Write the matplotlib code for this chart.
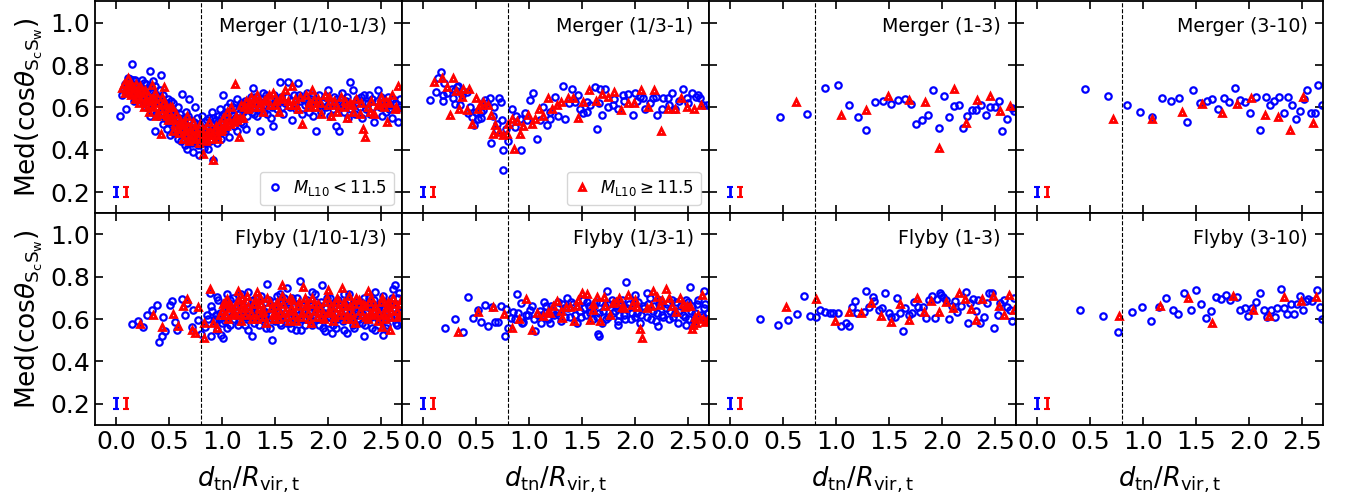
import numpy as np
import matplotlib
matplotlib.use("Agg")
import matplotlib.pyplot as plt

# ---- data ----
# each list holds (d_tn/R_vir,t , Med(cos theta)) pairs
merger_a_lo = [
    (0.04, 0.56), (0.06, 0.66), (0.07, 0.69), (0.09, 0.59), (0.10, 0.72), (0.11, 0.74), (0.12, 0.70),
    (0.13, 0.735), (0.15, 0.805), (0.16, 0.73), (0.17, 0.63), (0.18, 0.68), (0.19, 0.71), (0.20, 0.66),
    (0.21, 0.68), (0.22, 0.64), (0.23, 0.70), (0.24, 0.73), (0.25, 0.62), (0.26, 0.715), (0.27, 0.66),
    (0.28, 0.60), (0.29, 0.68), (0.30, 0.69), (0.31, 0.64), (0.32, 0.77), (0.32, 0.56), (0.33, 0.62),
    (0.34, 0.58), (0.35, 0.725), (0.36, 0.66), (0.37, 0.49), (0.38, 0.60), (0.39, 0.63), (0.40, 0.56),
    (0.41, 0.68), (0.42, 0.755), (0.43, 0.58), (0.44, 0.52), (0.45, 0.62), (0.46, 0.55), (0.47, 0.60),
    (0.48, 0.50), (0.49, 0.64), (0.50, 0.56), (0.51, 0.47), (0.52, 0.59), (0.53, 0.53), (0.54, 0.62),
    (0.55, 0.48), (0.56, 0.57), (0.57, 0.52), (0.58, 0.45), (0.59, 0.55), (0.60, 0.50), (0.61, 0.44),
    (0.62, 0.665), (0.63, 0.53), (0.64, 0.47), (0.65, 0.42), (0.66, 0.51), (0.67, 0.405), (0.68, 0.56),
    (0.69, 0.64), (0.70, 0.46), (0.71, 0.50), (0.72, 0.43), (0.73, 0.39), (0.74, 0.53), (0.75, 0.60),
    (0.76, 0.47), (0.77, 0.42), (0.78, 0.375), (0.79, 0.51), (0.80, 0.44), (0.81, 0.56), (0.82, 0.48),
    (0.83, 0.41), (0.84, 0.53), (0.85, 0.46), (0.86, 0.50), (0.87, 0.405), (0.88, 0.55), (0.89, 0.44),
    (0.90, 0.52), (0.91, 0.58), (0.92, 0.35), (0.93, 0.48), (0.94, 0.54), (0.95, 0.43), (0.96, 0.56),
    (0.97, 0.50), (0.98, 0.59), (0.99, 0.45), (1.00, 0.53), (1.01, 0.66), (1.02, 0.57), (1.03, 0.49),
    (1.05, 0.60), (1.06, 0.54), (1.07, 0.46), (1.08, 0.62), (1.10, 0.56), (1.11, 0.51), (1.12, 0.59),
    (1.14, 0.64), (1.15, 0.55), (1.17, 0.61), (1.18, 0.53), (1.20, 0.58), (1.22, 0.63), (1.23, 0.50),
    (1.25, 0.60), (1.27, 0.65), (1.29, 0.69), (1.30, 0.57), (1.32, 0.62), (1.34, 0.60), (1.36, 0.49),
    (1.38, 0.64), (1.40, 0.58), (1.42, 0.66), (1.44, 0.61), (1.46, 0.55), (1.48, 0.51), (1.50, 0.63),
    (1.52, 0.59), (1.55, 0.72), (1.56, 0.65), (1.58, 0.57), (1.60, 0.62), (1.62, 0.72), (1.64, 0.60),
    (1.66, 0.54), (1.68, 0.66), (1.70, 0.59), (1.72, 0.715), (1.74, 0.63), (1.76, 0.57), (1.78, 0.61),
    (1.80, 0.67), (1.82, 0.58), (1.84, 0.64), (1.86, 0.56), (1.89, 0.49), (1.90, 0.62), (1.92, 0.66),
    (1.94, 0.58), (1.96, 0.63), (1.98, 0.60), (2.00, 0.68), (2.02, 0.56), (2.04, 0.62), (2.06, 0.65),
    (2.08, 0.51), (2.10, 0.60), (2.11, 0.49), (2.13, 0.67), (2.15, 0.58), (2.17, 0.63), (2.19, 0.55),
    (2.21, 0.72), (2.23, 0.61), (2.24, 0.68), (2.26, 0.57), (2.28, 0.64), (2.30, 0.60), (2.32, 0.55),
    (2.34, 0.66), (2.36, 0.59), (2.38, 0.62), (2.40, 0.57), (2.42, 0.64), (2.44, 0.53), (2.47, 0.68),
    (2.49, 0.60), (2.51, 0.56), (2.53, 0.63), (2.55, 0.58), (2.57, 0.65), (2.59, 0.61), (2.61, 0.55),
    (2.63, 0.62), (2.65, 0.59), (2.66, 0.53), (2.68, 0.64),
    (0.08, 0.71), (0.12, 0.67), (0.14, 0.69), (0.16, 0.66), (0.18, 0.73), (0.20, 0.70), (0.22, 0.69),
    (0.24, 0.66), (0.26, 0.63), (0.28, 0.71), (0.30, 0.61), (0.33, 0.67), (0.35, 0.63), (0.37, 0.70),
    (0.38, 0.57), (0.40, 0.65), (0.42, 0.61), (0.44, 0.66), (0.46, 0.59), (0.48, 0.62), (0.50, 0.53),
    (0.52, 0.63), (0.54, 0.56), (0.56, 0.50), (0.58, 0.60), (0.60, 0.57), (0.62, 0.48), (0.64, 0.55),
    (0.66, 0.58), (0.68, 0.45), (0.70, 0.54), (0.72, 0.49), (0.74, 0.44), (0.76, 0.55), (0.78, 0.46),
    (0.80, 0.50), (0.82, 0.43), (0.84, 0.47), (0.86, 0.54), (0.88, 0.47), (0.90, 0.49), (0.92, 0.55),
    (0.94, 0.46), (0.96, 0.52), (0.98, 0.48), (1.00, 0.56), (1.02, 0.50), (1.04, 0.54), (1.06, 0.58),
    (1.08, 0.52), (1.10, 0.60), (1.12, 0.55), (1.14, 0.49), (1.16, 0.57), (1.18, 0.62), (1.20, 0.52),
    (1.22, 0.59), (1.24, 0.56), (1.26, 0.62), (1.28, 0.58), (1.31, 0.65), (1.33, 0.56), (1.35, 0.63),
    (1.37, 0.59), (1.39, 0.67), (1.41, 0.61), (1.43, 0.57), (1.45, 0.64), (1.47, 0.60), (1.49, 0.66),
    (1.53, 0.62), (1.57, 0.60), (1.61, 0.65), (1.65, 0.63), (1.69, 0.61), (1.73, 0.66), (1.77, 0.64),
    (1.81, 0.62), (1.85, 0.66), (1.88, 0.60), (1.93, 0.61), (1.97, 0.65), (2.01, 0.62), (2.05, 0.59),
    (2.09, 0.64), (2.14, 0.61), (2.18, 0.65), (2.22, 0.59), (2.27, 0.62), (2.31, 0.65), (2.35, 0.62),
    (2.39, 0.66), (2.43, 0.60), (2.46, 0.63), (2.50, 0.65), (2.54, 0.61), (2.58, 0.59), (2.62, 0.64),
    (2.67, 0.60),
]
merger_a_hi = [
    (0.06, 0.69), (0.08, 0.67), (0.10, 0.70), (0.11, 0.74), (0.13, 0.72), (0.14, 0.66), (0.15, 0.70),
    (0.17, 0.69), (0.18, 0.64), (0.19, 0.71), (0.21, 0.67), (0.22, 0.62), (0.23, 0.70), (0.25, 0.65),
    (0.26, 0.60), (0.27, 0.68), (0.29, 0.63), (0.30, 0.66), (0.31, 0.58), (0.33, 0.64), (0.34, 0.705),
    (0.35, 0.60), (0.37, 0.67), (0.38, 0.56), (0.39, 0.62), (0.41, 0.59), (0.42, 0.475), (0.43, 0.65),
    (0.45, 0.695), (0.46, 0.57), (0.47, 0.61), (0.49, 0.54), (0.50, 0.58), (0.52, 0.55), (0.53, 0.60),
    (0.54, 0.49), (0.56, 0.52), (0.57, 0.57), (0.59, 0.48), (0.60, 0.54), (0.62, 0.50), (0.63, 0.45),
    (0.64, 0.53), (0.66, 0.47), (0.67, 0.56), (0.69, 0.44), (0.70, 0.50), (0.72, 0.47), (0.73, 0.53),
    (0.75, 0.45), (0.76, 0.49), (0.78, 0.43), (0.79, 0.52), (0.81, 0.46), (0.82, 0.38), (0.84, 0.50),
    (0.85, 0.44), (0.87, 0.48), (0.88, 0.53), (0.90, 0.45), (0.92, 0.35), (0.93, 0.50), (0.95, 0.47),
    (0.97, 0.52), (0.99, 0.49), (1.01, 0.55), (1.03, 0.52), (1.05, 0.58), (1.07, 0.54), (1.09, 0.60),
    (1.12, 0.71), (1.13, 0.56), (1.16, 0.46), (1.18, 0.61), (1.20, 0.55), (1.23, 0.63), (1.25, 0.59),
    (1.27, 0.65), (1.30, 0.60), (1.33, 0.66), (1.36, 0.62), (1.39, 0.58), (1.42, 0.64), (1.45, 0.61),
    (1.48, 0.67), (1.51, 0.63), (1.54, 0.58), (1.57, 0.65), (1.60, 0.68), (1.63, 0.61), (1.66, 0.70),
    (1.69, 0.64), (1.72, 0.59), (1.76, 0.52), (1.79, 0.66), (1.82, 0.62), (1.85, 0.68), (1.88, 0.60),
    (1.91, 0.64), (1.94, 0.57), (1.97, 0.66), (2.00, 0.61), (2.03, 0.56), (2.06, 0.63), (2.09, 0.58),
    (2.12, 0.65), (2.15, 0.60), (2.18, 0.55), (2.21, 0.62), (2.24, 0.58), (2.27, 0.64), (2.30, 0.57),
    (2.33, 0.50), (2.35, 0.46), (2.38, 0.60), (2.41, 0.63), (2.44, 0.57), (2.47, 0.61), (2.50, 0.65),
    (2.53, 0.60), (2.56, 0.53), (2.58, 0.62), (2.61, 0.66), (2.64, 0.60), (2.66, 0.70),
    (0.07, 0.71), (0.09, 0.68), (0.12, 0.71), (0.16, 0.67), (0.20, 0.65), (0.24, 0.68), (0.28, 0.64),
    (0.32, 0.61), (0.36, 0.64), (0.40, 0.57), (0.44, 0.62), (0.48, 0.56), (0.51, 0.60), (0.55, 0.54),
    (0.58, 0.50), (0.61, 0.52), (0.65, 0.49), (0.68, 0.51), (0.71, 0.45), (0.74, 0.50), (0.77, 0.46),
    (0.80, 0.48), (0.83, 0.45), (0.86, 0.47), (0.89, 0.49), (0.91, 0.47), (0.94, 0.51), (0.96, 0.45),
    (0.98, 0.49), (1.00, 0.50), (1.04, 0.51), (1.08, 0.52), (1.11, 0.53), (1.14, 0.54), (1.17, 0.55),
    (1.21, 0.60), (1.26, 0.62), (1.31, 0.64), (1.35, 0.60), (1.40, 0.63), (1.44, 0.66), (1.50, 0.61),
    (1.55, 0.64), (1.62, 0.63), (1.68, 0.61), (1.74, 0.65), (1.81, 0.60), (1.87, 0.64), (1.93, 0.62),
    (2.01, 0.65), (2.08, 0.61), (2.16, 0.63), (2.23, 0.61), (2.31, 0.62), (2.40, 0.58), (2.48, 0.62),
    (2.55, 0.63), (2.63, 0.59),
]
merger_b_lo = [
    (0.064, 0.637), (0.118, 0.674), (0.143, 0.737), (0.165, 0.765), (0.184, 0.629), (0.19, 0.66),
    (0.200, 0.713), (0.222, 0.666), (0.269, 0.689), (0.284, 0.642), (0.300, 0.681), (0.316, 0.697),
    (0.332, 0.702), (0.300, 0.618), (0.347, 0.610), (0.37, 0.66), (0.410, 0.674), (0.426, 0.571),
    (0.44, 0.60), (0.458, 0.555), (0.483, 0.515), (0.50, 0.58), (0.521, 0.547), (0.546, 0.579),
    (0.55, 0.55), (0.568, 0.587), (0.584, 0.634), (0.60, 0.62), (0.631, 0.645), (0.640, 0.432),
    (0.66, 0.56), (0.672, 0.602), (0.694, 0.492), (0.70, 0.52), (0.719, 0.645), (0.731, 0.623),
    (0.741, 0.539), (0.757, 0.397), (0.750, 0.302), (0.78, 0.50), (0.804, 0.440), (0.835, 0.594),
    (0.867, 0.508), (0.88, 0.56), (0.923, 0.400), (0.914, 0.547), (0.961, 0.571), (0.98, 0.54),
    (1.008, 0.637), (1.040, 0.670), (1.071, 0.452), (1.103, 0.539), (1.134, 0.602), (1.166, 0.515),
    (1.197, 0.547), (1.20, 0.58), (1.244, 0.650), (1.27, 0.56), (1.323, 0.700), (1.339, 0.547),
    (1.38, 0.62), (1.402, 0.689), (1.433, 0.626), (1.46, 0.66), (1.481, 0.594), (1.512, 0.571),
    (1.544, 0.626), (1.55, 0.58), (1.575, 0.610), (1.622, 0.697), (1.638, 0.496), (1.66, 0.62),
    (1.670, 0.689), (1.692, 0.563), (1.717, 0.685), (1.748, 0.602), (1.795, 0.610), (1.80, 0.64),
    (1.843, 0.594), (1.890, 0.658), (1.90, 0.63), (1.937, 0.661), (1.984, 0.566), (2.000, 0.666),
    (2.02, 0.63), (2.047, 0.650), (2.079, 0.642), (2.094, 0.594), (2.14, 0.62), (2.173, 0.645),
    (2.20, 0.65), (2.205, 0.566), (2.252, 0.594), (2.268, 0.645), (2.315, 0.642), (2.32, 0.61),
    (2.346, 0.666), (2.378, 0.594), (2.42, 0.63), (2.456, 0.686), (2.488, 0.642), (2.50, 0.62),
    (2.535, 0.666), (2.582, 0.650), (2.60, 0.66), (2.614, 0.642), (2.646, 0.610), (2.68, 0.61),
]
merger_b_hi = [
    (0.105, 0.721), (0.175, 0.740), (0.222, 0.694), (0.284, 0.737), (0.253, 0.563), (0.307, 0.678),
    (0.338, 0.591), (0.363, 0.650), (0.379, 0.686), (0.410, 0.587), (0.432, 0.689), (0.458, 0.523),
    (0.495, 0.642), (0.521, 0.591), (0.536, 0.613), (0.568, 0.626), (0.609, 0.610), (0.640, 0.566),
    (0.662, 0.476), (0.678, 0.515), (0.719, 0.484), (0.757, 0.468), (0.788, 0.476), (0.804, 0.523),
    (0.835, 0.547), (0.883, 0.534), (0.857, 0.402), (0.914, 0.476), (0.946, 0.512), (0.986, 0.563),
    (1.024, 0.523), (1.055, 0.547), (1.093, 0.594), (1.134, 0.560), (1.175, 0.642), (1.213, 0.591),
    (1.260, 0.610), (1.301, 0.626), (1.364, 0.645), (1.411, 0.645), (1.459, 0.550), (1.512, 0.626),
    (1.566, 0.681), (1.629, 0.629), (1.685, 0.661), (1.742, 0.650), (1.805, 0.674), (1.868, 0.587),
    (1.931, 0.621), (1.994, 0.621), (2.054, 0.683), (2.120, 0.602), (2.183, 0.683), (2.246, 0.487),
    (2.315, 0.590), (2.378, 0.594), (2.434, 0.645), (2.497, 0.602), (2.560, 0.594), (2.623, 0.610),
]
merger_c_lo = [
    (0.474, 0.553), (0.728, 0.570), (0.895, 0.690), (1.021, 0.706), (1.122, 0.613), (1.210, 0.553),
    (1.285, 0.494), (1.364, 0.627), (1.446, 0.631), (1.518, 0.617), (1.588, 0.633), (1.647, 0.641),
    (1.704, 0.617), (1.760, 0.521), (1.811, 0.540), (1.864, 0.565), (1.918, 0.682), (1.968, 0.502),
    (2.022, 0.652), (2.063, 0.553), (2.110, 0.606), (2.160, 0.611), (2.198, 0.501), (2.239, 0.559),
    (2.283, 0.587), (2.324, 0.589), (2.368, 0.609), (2.412, 0.565), (2.453, 0.603), (2.497, 0.600),
    (2.535, 0.628), (2.570, 0.487), (2.614, 0.546), (2.658, 0.595), (2.680, 0.584),
]
merger_c_hi = [
    (0.625, 0.624), (1.047, 0.564), (1.285, 0.589), (1.493, 0.655), (1.685, 0.635), (1.836, 0.624),
    (1.972, 0.409), (2.110, 0.688), (2.227, 0.526), (2.334, 0.636), (2.450, 0.652), (2.551, 0.583),
    (2.642, 0.605),
]
merger_d_lo = [
    (0.455, 0.687), (0.672, 0.652), (0.845, 0.609), (0.971, 0.578), (1.085, 0.554), (1.179, 0.646),
    (1.264, 0.630), (1.339, 0.644), (1.415, 0.529), (1.472, 0.682), (1.535, 0.620), (1.601, 0.630),
    (1.654, 0.641), (1.711, 0.592), (1.764, 0.646), (1.815, 0.624), (1.865, 0.691), (1.919, 0.633),
    (1.966, 0.624), (2.013, 0.575), (2.067, 0.647), (2.108, 0.491), (2.158, 0.650), (2.199, 0.611),
    (2.240, 0.630), (2.287, 0.649), (2.328, 0.572), (2.372, 0.650), (2.410, 0.611), (2.441, 0.546),
    (2.479, 0.583), (2.520, 0.638), (2.551, 0.680), (2.589, 0.572), (2.624, 0.575), (2.655, 0.706),
    (2.686, 0.611),
]
merger_d_hi = [
    (0.719, 0.543), (1.088, 0.546), (1.365, 0.576), (1.557, 0.614), (1.746, 0.573), (1.891, 0.614),
    (2.020, 0.646), (2.155, 0.565), (2.278, 0.556), (2.388, 0.493), (2.508, 0.647), (2.608, 0.526),
]
flyby_a_lo = [
    (0.148, 0.578), (0.211, 0.591), (0.258, 0.562), (0.290, 0.619), (0.337, 0.643), (0.384, 0.666),
    (0.409, 0.493), (0.431, 0.520), (0.447, 0.611), (0.463, 0.545), (0.510, 0.666), (0.526, 0.687),
    (0.557, 0.587), (0.573, 0.548), (0.620, 0.694), (0.652, 0.619), (0.668, 0.674), (0.715, 0.564),
    (0.731, 0.643), (0.769, 0.595), (0.803, 0.528), (0.841, 0.564), (0.894, 0.520), (0.935, 0.591),
    (0.989, 0.524), (1.014, 0.509), (0.888, 0.721), (0.951, 0.706), (1.077, 0.690), (1.288, 0.520),
    (1.424, 0.768), (1.471, 0.501), (1.613, 0.745), (1.739, 0.781), (1.943, 0.761), (1.975, 0.543),
    (2.038, 0.532), (2.180, 0.532), (2.343, 0.520), (2.520, 0.524), (2.636, 0.761), (2.668, 0.721),
    (0.86, 0.62), (0.90, 0.66), (0.93, 0.60), (0.96, 0.69), (0.98, 0.63), (1.00, 0.58), (1.02, 0.67),
    (1.04, 0.61), (1.06, 0.64), (1.08, 0.57), (1.10, 0.70), (1.12, 0.62), (1.14, 0.66), (1.16, 0.59),
    (1.18, 0.72), (1.20, 0.63), (1.22, 0.57), (1.24, 0.68), (1.26, 0.61), (1.28, 0.65), (1.30, 0.58),
    (1.32, 0.70), (1.34, 0.62), (1.36, 0.67), (1.38, 0.60), (1.40, 0.64), (1.42, 0.56), (1.44, 0.69),
    (1.46, 0.62), (1.48, 0.66), (1.50, 0.59), (1.52, 0.71), (1.54, 0.63), (1.56, 0.57), (1.58, 0.68),
    (1.60, 0.61), (1.62, 0.65), (1.64, 0.58), (1.66, 0.70), (1.68, 0.62), (1.70, 0.55), (1.72, 0.67),
    (1.74, 0.60), (1.76, 0.64), (1.78, 0.57), (1.80, 0.69), (1.82, 0.61), (1.84, 0.66), (1.86, 0.59),
    (1.88, 0.72), (1.90, 0.63), (1.92, 0.57), (1.94, 0.68), (1.96, 0.61), (1.98, 0.65), (2.00, 0.58),
    (2.02, 0.70), (2.04, 0.62), (2.06, 0.66), (2.08, 0.56), (2.10, 0.69), (2.12, 0.63), (2.14, 0.59),
    (2.16, 0.67), (2.18, 0.61), (2.20, 0.72), (2.22, 0.64), (2.24, 0.57), (2.26, 0.68), (2.28, 0.62),
    (2.30, 0.65), (2.32, 0.58), (2.34, 0.70), (2.36, 0.63), (2.38, 0.60), (2.40, 0.67), (2.42, 0.56),
    (2.44, 0.69), (2.46, 0.62), (2.48, 0.66), (2.50, 0.59), (2.52, 0.71), (2.54, 0.63), (2.56, 0.57),
    (2.58, 0.68), (2.60, 0.61), (2.62, 0.65), (2.64, 0.58), (2.66, 0.70), (2.68, 0.63),
    (0.95, 0.55), (1.05, 0.56), (1.15, 0.57), (1.25, 0.55), (1.35, 0.57), (1.45, 0.56), (1.55, 0.58),
    (1.65, 0.56), (1.75, 0.55), (1.85, 0.57), (1.95, 0.56), (2.05, 0.57), (2.15, 0.55), (2.25, 0.56),
    (2.35, 0.57), (2.45, 0.55), (2.55, 0.56), (2.65, 0.57), (1.05, 0.72), (1.25, 0.73), (1.55, 0.72),
    (1.85, 0.73), (2.15, 0.72), (2.45, 0.73), (2.62, 0.74),
    (0.87, 0.60), (0.91, 0.64), (0.94, 0.62), (0.97, 0.60), (1.01, 0.63), (1.03, 0.59), (1.07, 0.66),
    (1.11, 0.60), (1.13, 0.64), (1.17, 0.62), (1.19, 0.67), (1.23, 0.61), (1.27, 0.64), (1.29, 0.69),
    (1.31, 0.61), (1.35, 0.64), (1.37, 0.71), (1.41, 0.62), (1.43, 0.65), (1.47, 0.60), (1.49, 0.68),
    (1.53, 0.64), (1.57, 0.62), (1.59, 0.70), (1.61, 0.58), (1.63, 0.67), (1.67, 0.63), (1.69, 0.60),
    (1.71, 0.70), (1.73, 0.62), (1.77, 0.66), (1.79, 0.60), (1.83, 0.63), (1.87, 0.62), (1.89, 0.68),
    (1.91, 0.60), (1.93, 0.66), (1.97, 0.63), (1.99, 0.70), (2.01, 0.61), (2.03, 0.66), (2.07, 0.63),
    (2.09, 0.60), (2.11, 0.67), (2.13, 0.61), (2.17, 0.64), (2.19, 0.69), (2.21, 0.60), (2.23, 0.66),
    (2.27, 0.63), (2.29, 0.60), (2.31, 0.68), (2.33, 0.62), (2.37, 0.66), (2.39, 0.70), (2.41, 0.61),
    (2.43, 0.64), (2.47, 0.60), (2.49, 0.67), (2.51, 0.63), (2.53, 0.68), (2.57, 0.61), (2.59, 0.66),
    (2.61, 0.70), (2.63, 0.62), (2.67, 0.66), (2.69, 0.59),
]
flyby_a_hi = [
    (0.227, 0.576), (0.353, 0.619), (0.431, 0.564), (0.542, 0.622), (0.589, 0.568), (0.630, 0.661),
    (0.674, 0.693), (0.715, 0.548), (0.746, 0.535), (0.778, 0.658), (0.831, 0.512), (0.831, 0.580),
    (0.888, 0.740), (0.920, 0.583), (0.951, 0.556), (0.983, 0.619), (1.046, 0.694), (1.156, 0.734),
    (1.329, 0.729), (1.565, 0.761), (1.770, 0.750), (2.006, 0.737), (2.132, 0.748), (2.384, 0.734),
    (2.589, 0.548), (2.510, 0.564),
    (1.00, 0.64), (1.03, 0.68), (1.06, 0.60), (1.09, 0.66), (1.12, 0.62), (1.15, 0.69), (1.18, 0.59),
    (1.21, 0.65), (1.24, 0.71), (1.27, 0.63), (1.30, 0.67), (1.33, 0.60), (1.36, 0.70), (1.39, 0.64),
    (1.42, 0.58), (1.45, 0.68), (1.48, 0.62), (1.51, 0.66), (1.54, 0.60), (1.57, 0.71), (1.60, 0.64),
    (1.63, 0.59), (1.66, 0.69), (1.69, 0.62), (1.72, 0.66), (1.75, 0.61), (1.78, 0.70), (1.81, 0.63),
    (1.84, 0.58), (1.87, 0.67), (1.90, 0.61), (1.93, 0.65), (1.96, 0.60), (1.99, 0.70), (2.02, 0.64),
    (2.05, 0.59), (2.08, 0.68), (2.11, 0.62), (2.14, 0.66), (2.17, 0.60), (2.20, 0.71), (2.23, 0.63),
    (2.26, 0.58), (2.29, 0.69), (2.32, 0.62), (2.35, 0.66), (2.38, 0.60), (2.41, 0.70), (2.44, 0.64),
    (2.47, 0.59), (2.50, 0.68), (2.53, 0.62), (2.56, 0.66), (2.59, 0.61), (2.62, 0.70), (2.65, 0.64),
    (2.68, 0.67), (1.10, 0.63), (1.20, 0.67), (1.35, 0.65), (1.50, 0.63), (1.65, 0.65), (1.80, 0.67),
    (1.95, 0.63), (2.10, 0.65), (2.25, 0.67), (2.40, 0.63), (2.55, 0.65), (2.67, 0.62),
    (1.01, 0.67), (1.04, 0.62), (1.07, 0.65), (1.13, 0.66), (1.16, 0.63), (1.19, 0.70), (1.22, 0.62),
    (1.25, 0.66), (1.28, 0.60), (1.31, 0.69), (1.34, 0.63), (1.37, 0.67), (1.40, 0.61), (1.43, 0.70),
    (1.46, 0.65), (1.49, 0.60), (1.52, 0.68), (1.55, 0.63), (1.58, 0.67), (1.61, 0.61), (1.64, 0.70),
    (1.67, 0.64), (1.70, 0.59), (1.73, 0.68), (1.76, 0.63), (1.79, 0.66), (1.82, 0.60), (1.85, 0.70),
    (1.88, 0.64), (1.91, 0.67), (1.94, 0.61), (1.97, 0.68), (2.00, 0.63), (2.03, 0.66), (2.06, 0.61),
    (2.09, 0.70), (2.12, 0.64), (2.15, 0.68), (2.18, 0.62), (2.21, 0.66), (2.24, 0.60), (2.27, 0.70),
    (2.30, 0.64), (2.33, 0.67), (2.36, 0.61), (2.39, 0.68), (2.42, 0.62), (2.45, 0.66), (2.48, 0.63),
    (2.51, 0.70), (2.54, 0.60), (2.57, 0.68), (2.60, 0.64), (2.63, 0.67), (2.66, 0.61), (2.69, 0.69),
]
flyby_b_lo = [
    (0.205, 0.559), (0.299, 0.598), (0.372, 0.540), (0.425, 0.702), (0.472, 0.606), (0.520, 0.643),
    (0.551, 0.587), (0.583, 0.665), (0.614, 0.569), (0.646, 0.658), (0.677, 0.587), (0.709, 0.587),
    (0.740, 0.661), (0.772, 0.520), (0.787, 0.646), (0.803, 0.556), (0.828, 0.603), (0.850, 0.635),
    (0.882, 0.717), (0.898, 0.627), (0.920, 0.674), (0.945, 0.587), (0.976, 0.619), (1.008, 0.643),
    (1.033, 0.661), (1.055, 0.545), (1.087, 0.619), (1.118, 0.580), (1.140, 0.682), (1.654, 0.528),
    (1.663, 0.520), (1.739, 0.732), (1.843, 0.572), (1.915, 0.776), (2.000, 0.713), (2.110, 0.721),
    (2.214, 0.567), (2.482, 0.572), (2.520, 0.750), (2.652, 0.734),
    (1.15, 0.63), (1.18, 0.60), (1.21, 0.66), (1.24, 0.62), (1.27, 0.68), (1.30, 0.59), (1.33, 0.65),
    (1.36, 0.70), (1.39, 0.61), (1.42, 0.67), (1.45, 0.58), (1.48, 0.64), (1.51, 0.69), (1.54, 0.62),
    (1.57, 0.66), (1.60, 0.60), (1.63, 0.68), (1.66, 0.63), (1.69, 0.58), (1.72, 0.66), (1.75, 0.61),
    (1.78, 0.69), (1.81, 0.64), (1.84, 0.59), (1.87, 0.67), (1.90, 0.62), (1.93, 0.65), (1.96, 0.60),
    (1.99, 0.68), (2.02, 0.63), (2.05, 0.58), (2.08, 0.66), (2.11, 0.61), (2.14, 0.70), (2.17, 0.64),
    (2.20, 0.59), (2.23, 0.67), (2.26, 0.62), (2.29, 0.65), (2.32, 0.60), (2.35, 0.69), (2.38, 0.63),
    (2.41, 0.58), (2.44, 0.66), (2.47, 0.61), (2.50, 0.68), (2.53, 0.64), (2.56, 0.59), (2.59, 0.67),
    (2.62, 0.62), (2.65, 0.65), (2.68, 0.60), (0.87, 0.60), (0.93, 0.58), (0.99, 0.62), (1.05, 0.60),
    (1.10, 0.64), (1.12, 0.62), (1.20, 0.58), (1.26, 0.63),
    (1.16, 0.66), (1.22, 0.64), (1.28, 0.62), (1.31, 0.67), (1.34, 0.61), (1.37, 0.65), (1.40, 0.68),
    (1.43, 0.62), (1.46, 0.66), (1.49, 0.61), (1.52, 0.65), (1.55, 0.68), (1.58, 0.63), (1.61, 0.66),
    (1.64, 0.61), (1.67, 0.68), (1.70, 0.64), (1.73, 0.60), (1.76, 0.67), (1.79, 0.63), (1.82, 0.66),
    (1.85, 0.62), (1.88, 0.69), (1.91, 0.60), (1.94, 0.67), (1.97, 0.63), (2.00, 0.61), (2.03, 0.68),
    (2.06, 0.62), (2.09, 0.65), (2.12, 0.67), (2.15, 0.60), (2.18, 0.66), (2.21, 0.63), (2.24, 0.69),
    (2.27, 0.61), (2.30, 0.67), (2.33, 0.64), (2.36, 0.61), (2.39, 0.68), (2.42, 0.64), (2.45, 0.62),
    (2.48, 0.69), (2.51, 0.60), (2.54, 0.66), (2.57, 0.63), (2.60, 0.69), (2.63, 0.61), (2.66, 0.67),
    (2.69, 0.63),
]
flyby_b_hi = [
    (0.331, 0.540), (0.520, 0.635), (0.661, 0.658), (0.762, 0.624), (0.844, 0.556), (0.907, 0.600),
    (0.967, 0.694), (1.024, 0.548), (1.080, 0.627), (1.134, 0.614), (1.181, 0.635), (1.222, 0.661),
    (1.266, 0.687), (1.313, 0.603), (1.354, 0.658), (1.386, 0.655), (1.427, 0.591), (1.465, 0.690),
    (1.505, 0.721), (1.550, 0.718), (1.575, 0.595), (1.606, 0.643), (1.638, 0.702), (1.669, 0.591),
    (1.707, 0.705), (1.764, 0.619), (1.795, 0.674), (1.852, 0.701), (1.883, 0.658), (1.934, 0.713),
    (1.969, 0.666), (2.022, 0.658), (2.047, 0.551), (2.072, 0.512), (2.110, 0.650), (2.167, 0.734),
    (2.205, 0.702), (2.236, 0.666), (2.293, 0.740), (2.324, 0.698), (2.387, 0.635), (2.425, 0.698),
    (2.472, 0.655), (2.494, 0.661), (2.535, 0.551), (2.567, 0.608), (2.598, 0.619), (2.630, 0.713),
    (2.661, 0.587),
    (1.20, 0.63), (1.30, 0.64), (1.45, 0.66), (1.60, 0.67), (1.72, 0.66), (1.82, 0.68), (1.90, 0.65),
    (2.00, 0.69), (2.15, 0.66), (2.26, 0.69), (2.35, 0.66), (2.45, 0.67), (2.52, 0.66), (2.58, 0.58),
    (2.55, 0.57), (2.64, 0.60), (2.68, 0.59),
]
flyby_c_lo = [
    (0.283, 0.600), (0.450, 0.572), (0.545, 0.595), (0.630, 0.622), (0.693, 0.707), (0.750, 0.614),
    (0.809, 0.611), (0.850, 0.643), (0.898, 0.635), (0.945, 0.631), (0.976, 0.630), (1.014, 0.631),
    (1.049, 0.568), (1.093, 0.583), (1.121, 0.568), (1.150, 0.658), (1.175, 0.687), (1.197, 0.630),
    (1.260, 0.635), (1.282, 0.734), (1.307, 0.658), (1.345, 0.706), (1.361, 0.685), (1.402, 0.643),
    (1.433, 0.650), (1.458, 0.724), (1.496, 0.630), (1.521, 0.611), (1.553, 0.611), (1.575, 0.698),
    (1.606, 0.627), (1.631, 0.545), (1.654, 0.650), (1.685, 0.619), (1.717, 0.627), (1.732, 0.682),
    (1.770, 0.655), (1.795, 0.635), (1.820, 0.655), (1.849, 0.603), (1.874, 0.690), (1.906, 0.709),
    (1.931, 0.603), (1.953, 0.693), (1.978, 0.721), (1.991, 0.713), (2.009, 0.706), (2.038, 0.690),
    (2.063, 0.598), (2.094, 0.661), (2.126, 0.687), (2.142, 0.635), (2.183, 0.661), (2.227, 0.726),
    (2.243, 0.580), (2.268, 0.674), (2.293, 0.693), (2.318, 0.638), (2.337, 0.690), (2.362, 0.580),
    (2.400, 0.611), (2.425, 0.674), (2.441, 0.721), (2.472, 0.721), (2.494, 0.559), (2.529, 0.619),
    (2.551, 0.674), (2.583, 0.690), (2.614, 0.658), (2.646, 0.643), (2.661, 0.591), (2.677, 0.698),
]
flyby_c_hi = [
    (0.526, 0.658), (0.809, 0.693), (0.986, 0.592), (1.118, 0.635), (1.235, 0.630), (1.332, 0.677),
    (1.424, 0.616), (1.521, 0.587), (1.606, 0.671), (1.691, 0.595), (1.764, 0.698), (1.827, 0.635),
    (1.899, 0.685), (1.969, 0.635), (2.038, 0.682), (2.101, 0.650), (2.157, 0.721), (2.220, 0.693),
    (2.274, 0.646), (2.324, 0.595), (2.378, 0.694), (2.482, 0.710), (2.535, 0.661), (2.586, 0.619),
    (2.633, 0.713), (2.677, 0.643),
]
flyby_d_lo = [
    (0.409, 0.641), (0.624, 0.613), (0.762, 0.540), (0.891, 0.635), (0.992, 0.657), (1.074, 0.589),
    (1.150, 0.658), (1.213, 0.699), (1.279, 0.643), (1.332, 0.625), (1.386, 0.723), (1.449, 0.643),
    (1.502, 0.735), (1.543, 0.669), (1.597, 0.603), (1.644, 0.639), (1.688, 0.704), (1.732, 0.693),
    (1.780, 0.713), (1.820, 0.691), (1.883, 0.702), (1.915, 0.643), (1.959, 0.654), (1.994, 0.613),
    (2.031, 0.654), (2.069, 0.680), (2.104, 0.724), (2.142, 0.643), (2.173, 0.608), (2.211, 0.643),
    (2.243, 0.608), (2.268, 0.654), (2.299, 0.740), (2.331, 0.654), (2.356, 0.624), (2.394, 0.671),
    (2.425, 0.622), (2.450, 0.671), (2.482, 0.707), (2.510, 0.644), (2.535, 0.687), (2.561, 0.693),
    (2.592, 0.687), (2.646, 0.737), (2.671, 0.658), (2.693, 0.598),
]
flyby_d_hi = [
    (0.772, 0.616), (1.156, 0.660), (1.424, 0.699), (1.651, 0.581), (1.852, 0.710), (2.038, 0.643),
    (2.192, 0.616), (2.331, 0.706), (2.488, 0.687), (2.630, 0.702),
]

titles = ["Merger (1/10-1/3)", "Merger (1/3-1)", "Merger (1-3)", "Merger (3-10)",
          "Flyby (1/10-1/3)", "Flyby (1/3-1)", "Flyby (1-3)", "Flyby (3-10)"]
low_sets = [merger_a_lo, merger_b_lo, merger_c_lo, merger_d_lo,
            flyby_a_lo, flyby_b_lo, flyby_c_lo, flyby_d_lo]
high_sets = [merger_a_hi, merger_b_hi, merger_c_hi, merger_d_hi,
             flyby_a_hi, flyby_b_hi, flyby_c_hi, flyby_d_hi]

# representative error bars drawn at the bottom left of every panel
err_x = [0.0, 0.09]
err_y = [0.2, 0.2]
err_size = [0.025, 0.025]

d_split = 0.8

plt.rcParams['font.family'] = ['DejaVu Sans']
plt.rcParams['mathtext.fontset'] = 'dejavusans'

fig, axes = plt.subplots(2, 4, figsize=(13.56, 4.97), dpi=100, sharex=True, sharey=True)
fig.subplots_adjust(left=0.070, right=0.9757, top=0.997, bottom=0.145, wspace=0, hspace=0)

for i, ax in enumerate(axes.flat):
    lo = np.array(low_sets[i])
    hi = np.array(high_sets[i])
    h_lo, = ax.plot(lo[:, 0], lo[:, 1], 'o', mfc='none', mec='b', ms=4.6, mew=1.6,
                    label=r'$M_{\rm L10}<11.5$')
    h_hi, = ax.plot(hi[:, 0], hi[:, 1], '^', mfc='none', mec='r', ms=5.0, mew=2.0,
                    label=r'$M_{\rm L10}\geq11.5$')
    ax.errorbar(err_x[0], err_y[0], yerr=err_size[0], color='b', elinewidth=2, capsize=2, capthick=1.5)
    ax.errorbar(err_x[1], err_y[1], yerr=err_size[1], color='r', elinewidth=2, capsize=2, capthick=1.5)
    ax.axvline(d_split, color='k', ls='--', lw=0.8)
    ax.text(0.95, 0.88, titles[i], transform=ax.transAxes, ha='right', va='center', fontsize=13.7)

    ax.set_xlim(-0.2, 2.7)
    ax.set_ylim(0.1, 1.1)
    ax.set_xticks([0.0, 0.5, 1.0, 1.5, 2.0, 2.5])
    ax.set_yticks([0.2, 0.4, 0.6, 0.8, 1.0])
    ax.tick_params(direction='in', top=True, right=True, length=6, width=1.2, labelsize=18)
    for s in ax.spines.values():
        s.set_linewidth(1.3)

    if i == 0:
        ax.legend(handles=[h_lo], loc='lower right', fontsize=12, handlelength=1.0, handletextpad=0.6)
    if i == 1:
        ax.legend(handles=[h_hi], loc='lower right', fontsize=12, handlelength=1.0, handletextpad=0.6)
    if i % 4 == 0:
        ax.set_ylabel(r'Med(cos$\theta_{\rm S_cS_w}$)', fontsize=19)
    if i >= 4:
        ax.set_xlabel(r'$d_{\rm tn}/R_{\rm vir,t}$', fontsize=18.5, labelpad=8)

fig.savefig('out.png', dpi=100)
